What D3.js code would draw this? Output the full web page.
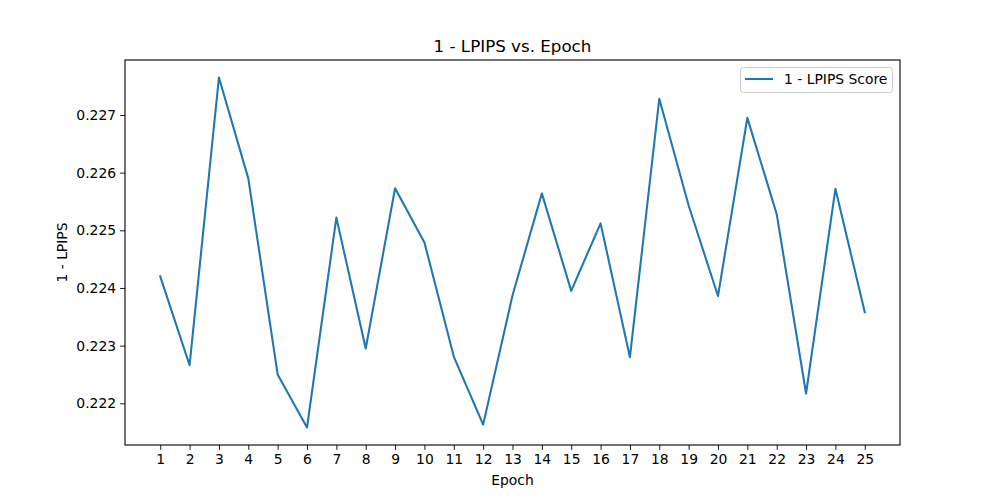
<!DOCTYPE html>
<html>
<head>
<meta charset="utf-8">
<script src="https://cdn.jsdelivr.net/npm/d3@7"></script>
<style>
  html, body { margin: 0; padding: 0; background: #fff; }
  svg { display: block; }
  text { font-family: "DejaVu Sans", sans-serif; fill: #000; }
</style>
</head>
<body>
<svg id="chart" width="1000" height="500"></svg>
<script>
const epochs = [1,2,3,4,5,6,7,8,9,10,11,12,13,14,15,16,17,18,19,20,21,22,23,24,25];
const scores = [0.22420,0.22266,0.22765,0.22590,0.22250,0.22158,0.22522,0.22295,0.22573,0.22479,
                0.22281,0.22163,0.22387,0.22564,0.22395,0.22512,0.22280,0.22728,0.22543,0.22386,
                0.22695,0.22528,0.22217,0.22572,0.22358];
const yTicks = [0.222,0.223,0.224,0.225,0.226,0.227];
const seriesName = "1 - LPIPS Score";
const titleText = "1 - LPIPS vs. Epoch";
const xLabel = "Epoch";
const yLabel = "1 - LPIPS";

const svg = d3.select("#chart");
const L = 125, R = 900, T = 60, B = 445;

const xmin = d3.min(epochs), xmax = d3.max(epochs);
const xm = (xmax - xmin) * 0.05;
const x = d3.scaleLinear().domain([xmin - xm, xmax + xm]).range([L, R]);
const ymin = d3.min(scores), ymax = d3.max(scores);
const ym = (ymax - ymin) * 0.05;
const y = d3.scaleLinear().domain([ymin - ym, ymax + ym]).range([B, T]);

// axes
const xAxis = d3.axisBottom(x).tickValues(epochs).tickSize(4.9).tickPadding(4).tickFormat(d3.format("d"));
const yAxis = d3.axisLeft(y).tickValues(yTicks).tickSize(4.9).tickPadding(4).tickFormat(d3.format(".3f"));

const gx = svg.append("g").attr("transform", `translate(0,${B})`).call(xAxis);
const gy = svg.append("g").attr("transform", `translate(${L},0)`).call(yAxis);
[gx, gy].forEach(g => {
  g.select(".domain").remove();
  g.selectAll(".tick line").attr("stroke", "#000").attr("stroke-width", 0.9);
  g.selectAll(".tick text").attr("font-size", "13.9px").attr("font-family", "DejaVu Sans, sans-serif").attr("fill", "#000");
});

// line
const line = d3.line().x((d, i) => x(epochs[i])).y(d => y(d));
svg.append("path").datum(scores)
  .attr("fill", "none").attr("stroke", "#1f77b4").attr("stroke-width", 2.08)
  .attr("stroke-linejoin", "round").attr("stroke-linecap", "square")
  .attr("d", line);

// frame
svg.append("rect").attr("x", L).attr("y", T).attr("width", R - L).attr("height", B - T)
  .attr("fill", "none").attr("stroke", "#000").attr("stroke-width", 1.1);

// title & labels
svg.append("text").attr("x", (L + R) / 2).attr("y", 52).attr("text-anchor", "middle")
  .attr("font-size", "16.7px").text(titleText);
svg.append("text").attr("x", (L + R) / 2).attr("y", 485).attr("text-anchor", "middle")
  .attr("font-size", "13.9px").text(xLabel);
svg.append("text").attr("transform", `translate(67,${(T + B) / 2}) rotate(-90)`)
  .attr("text-anchor", "middle").attr("font-size", "13.9px").text(yLabel);

// legend
const lg = svg.append("g");
lg.append("rect").attr("x", 740.5).attr("y", 67.5).attr("width", 152).attr("height", 25).attr("rx", 3)
  .attr("fill", "#fff").attr("fill-opacity", 0.8).attr("stroke", "#ccc").attr("stroke-width", 1);
lg.append("line").attr("x1", 745).attr("x2", 773).attr("y1", 79).attr("y2", 79)
  .attr("stroke", "#1f77b4").attr("stroke-width", 2.08);
lg.append("text").attr("x", 784).attr("y", 84).attr("font-size", "13.9px").text(seriesName);
</script>
</body>
</html>
